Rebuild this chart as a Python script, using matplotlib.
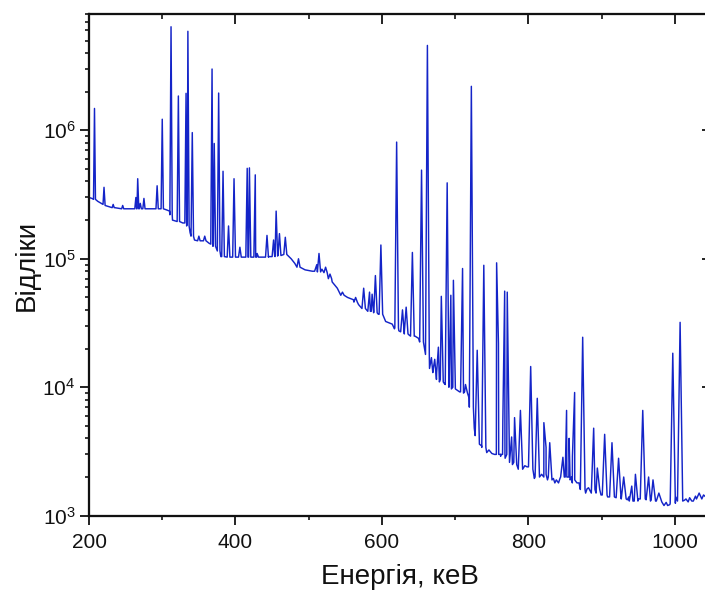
import numpy as np
import matplotlib
matplotlib.use("Agg")
import matplotlib.pyplot as plt
from matplotlib.ticker import MultipleLocator, LogLocator, NullLocator, NullFormatter, LogFormatterSciNotation

plt.rcParams['font.family'] = ['Liberation Sans', 'DejaVu Sans']
plt.rcParams['mathtext.fontset'] = 'custom'
plt.rcParams['mathtext.rm'] = 'Liberation Sans'
plt.rcParams['mathtext.it'] = 'Liberation Sans:italic'
plt.rcParams['mathtext.bf'] = 'Liberation Sans:bold'
plt.rcParams['mathtext.default'] = 'regular'

# ---- continuum (energy keV, counts) ----
base_e = [200, 204, 212, 222, 235, 250, 262, 280, 290, 298, 306, 310, 314, 320, 328, 338,
          344, 350, 358, 364, 374, 380, 400, 430, 445, 460, 470, 476, 481, 488, 495, 505,
          508, 511, 518, 527, 532, 539, 546, 553, 561, 568, 573, 581, 588, 595, 605, 614,
          617, 623, 630, 637, 645, 650, 656, 660, 665, 670, 675, 680, 685, 692, 700, 706,
          714, 719, 726, 733, 736, 743, 746, 750, 754, 762, 775, 785, 787, 792, 795, 798,
          806, 808, 815, 818, 825, 832, 834, 836, 838, 841, 843, 845, 850, 858, 866, 869,
          878, 880, 882, 886, 892, 899, 901, 908, 911, 917, 920, 926, 928, 935, 937, 939,
          944, 948, 950, 953, 960, 962, 966, 968, 974, 976, 980, 982, 985, 988, 990, 993,
          1001, 1004, 1010, 1013, 1015, 1018, 1020, 1023, 1025, 1028, 1030, 1033, 1036,
          1039, 1042, 1044, 1046, 1048, 1050]
base_c = [3.0e5, 2.95e5, 2.8e5, 2.6e5, 2.5e5, 2.45e5, 2.45e5, 2.45e5, 2.45e5, 2.45e5, 2.4e5,
          2.35e5, 2.0e5, 1.95e5, 1.9e5, 1.6e5, 1.4e5, 1.38e5, 1.38e5, 1.32e5, 1.2e5, 1.04e5,
          1.03e5, 1.03e5, 1.04e5, 1.06e5, 1.08e5, 1.0e5, 9.2e4, 8.6e4, 8.2e4, 8.0e4, 8.0e4,
          9.0e4, 8.3e4, 7.6e4, 6.6e4, 5.9e4, 5.3e4, 5.0e4, 4.8e4, 4.4e4, 4.1e4, 3.9e4, 3.8e4,
          3.7e4, 3.25e4, 3.1e4, 2.85e4, 2.75e4, 2.65e4, 2.55e4, 2.5e4, 2.4e4, 2.2e4, 2.15e4,
          1.45e4, 1.4e4, 1.15e4, 1.12e4, 1.07e4, 1.0e4, 9.5e3, 9.2e3, 9.0e3, 8.2e3, 4.8e3,
          3.6e3, 3.5e3, 3.1e3, 3.25e3, 3.05e3, 3.0e3, 2.9e3, 2.7e3, 2.4e3, 2.6e3, 2.3e3,
          2.45e3, 2.4e3, 2.3e3, 1.95e3, 2.2e3, 2.1e3, 2.0e3, 1.85e3, 1.95e3, 1.8e3, 1.9e3,
          1.8e3, 1.95e3, 2.1e3, 2.1e3, 2.1e3, 1.55e3, 1.8e3, 1.5e3, 1.62e3, 1.65e3, 1.45e3,
          1.7e3, 1.45e3, 1.75e3, 1.4e3, 1.5e3, 1.37e3, 1.45e3, 1.37e3, 1.45e3, 1.33e3, 1.4e3,
          1.3e3, 1.28e3, 1.38e3, 1.35e3, 1.28e3, 1.35e3, 1.25e3, 1.3e3, 1.38e3, 1.3e3,
          1.24e3, 1.22e3, 1.28e3, 1.2e3, 1.27e3, 1.2e3, 1.22e3, 1.4e3, 1.4e3, 1.15e3, 1.32e3,
          1.35e3, 1.28e3, 1.38e3, 1.3e3, 1.3e3, 1.42e3, 1.4e3, 1.5e3, 1.33e3, 1.45e3, 1.4e3,
          1.33e3, 1.5e3, 1.35e3, 1.42e3]

# ---- peaks: energy (keV), top counts, counts at foot ----
peak_e = [207.5, 220.5, 233, 246, 264, 266.5, 270, 275, 293, 300, 312, 322, 332.5, 335, 341,
          350, 358, 368, 371, 377, 383, 390.5, 398, 406, 416, 419, 427, 429.5, 443, 452, 455.5,
          460, 468, 486, 514, 523, 529, 546, 564, 575, 583, 586.5, 591, 598.5, 620, 628, 633,
          641.5, 654, 662, 667.5, 672, 677, 681, 689, 694, 697.5, 710, 714, 722, 730, 739,
          756.5, 759, 765, 767.5, 771, 777, 781, 789, 803, 812, 821, 824, 829, 847, 852,
          855.5, 860, 863, 874, 889, 894, 904, 914, 923, 930, 941, 946, 956, 964, 970, 978,
          997, 1007, 1033]
peak_top = [1.48e6, 3.6e5, 2.65e5, 2.6e5, 3.0e5, 4.2e5, 2.7e5, 2.95e5, 3.7e5, 1.22e6, 6.4e6,
            1.85e6, 1.94e6, 5.9e6, 9.6e5, 1.5e5, 1.5e5, 3.0e6, 7.9e5, 1.95e6, 4.8e5, 1.8e5,
            4.2e5, 1.23e5, 5.06e5, 5.1e5, 4.5e5, 1.1e5, 1.52e5, 1.4e5, 2.35e5, 1.57e5, 1.47e5,
            1.0e5, 1.1e5, 8.6e4, 7.6e4, 5.5e4, 5.0e4, 5.9e4, 5.5e4, 5.3e4, 7.4e4, 1.28e5,
            8.1e5, 4.0e4, 4.2e4, 1.12e5, 4.9e5, 4.58e6, 1.7e4, 1.65e4, 2.05e4, 5.1e4, 3.9e5,
            5.2e4, 6.8e4, 8.4e4, 1.05e4, 2.2e6, 1.94e4, 8.9e4, 9.3e4, 2.2e4, 5.5e3, 5.6e4,
            5.5e4, 4.1e3, 5.8e3, 6.6e3, 1.45e4, 8.2e3, 5.3e3, 3.4e3, 3.7e3, 2.85e3, 6.6e3,
            4.0e3, 2.9e3, 9.1e3, 2.45e4, 4.8e3, 2.35e3, 4.3e3, 3.7e3, 2.8e3, 2.0e3, 1.7e3,
            2.1e3, 6.6e3, 2.0e3, 1.9e3, 1.5e3, 1.84e4, 3.2e4, 1.5e3]
peak_base = [2.9e5, 2.65e5, 2.5e5, 2.45e5, 2.45e5, 2.45e5, 2.45e5, 2.45e5, 2.45e5, 2.45e5,
             2.2e5, 1.95e5, 1.9e5, 1.8e5, 1.5e5, 1.38e5, 1.38e5, 1.3e5, 1.25e5, 1.15e5,
             1.04e5, 1.03e5, 1.03e5, 1.03e5, 1.03e5, 1.03e5, 1.03e5, 1.03e5, 1.03e5, 1.04e5,
             1.05e5, 1.06e5, 1.08e5, 8.6e4, 7.9e4, 7.8e4, 7.0e4, 5.2e4, 4.6e4, 4.1e4, 3.9e4,
             3.9e4, 3.8e4, 3.7e4, 2.9e4, 2.7e4, 2.6e4, 2.5e4, 2.25e4, 1.8e4, 1.4e4, 1.3e4,
             1.15e4, 1.1e4, 1.05e4, 1.0e4, 9.7e3, 9.2e3, 9.0e3, 7.0e3, 4.2e3, 3.4e3, 3.0e3,
             3.0e3, 3.0e3, 3.0e3, 2.8e3, 2.6e3, 2.5e3, 2.3e3, 2.4e3, 2.0e3, 2.1e3, 2.0e3,
             1.9e3, 2.0e3, 2.0e3, 2.0e3, 1.9e3, 1.8e3, 1.6e3, 1.5e3, 1.6e3, 1.45e3, 1.4e3,
             1.38e3, 1.35e3, 1.3e3, 1.3e3, 1.35e3, 1.33e3, 1.3e3, 1.3e3, 1.25e3, 1.3e3, 1.35e3]

# ---- build the spectrum polyline (peaks drawn as narrow spikes) ----
def half_width(e):
    return 1.3 + 0.0028 * (e - 200.0)

pts = []
pe = np.array(peak_e)
pw = np.array([half_width(p) for p in pe])
for e, c in zip(base_e, base_c):
    if np.all(np.abs(pe - e) >= pw):
        pts.append((e, c))
for e, t, b in zip(peak_e, peak_top, peak_base):
    w = half_width(e)
    pts += [(e - w, b), (e, t), (e + w, b)]
pts.sort(key=lambda p: p[0])
xs = [p[0] for p in pts]
ys = [p[1] for p in pts]

fig = plt.figure(figsize=(7.05, 5.92), dpi=100)
ax = fig.add_axes([89 / 705, 1 - 515.7 / 592, (711.6 - 89) / 705, (515.7 - 14.3) / 592])
ax.plot(xs, ys, color='#1424C8', lw=1.05)
ax.set_yscale('log')
ax.set_xlim(200, 1050)
ax.set_ylim(1e3, 8e6)

ax.xaxis.set_major_locator(MultipleLocator(200))
ax.xaxis.set_minor_locator(MultipleLocator(100))
ax.yaxis.set_major_locator(LogLocator(base=10, numticks=10))
ax.yaxis.set_minor_locator(LogLocator(base=10, subs=np.arange(2, 10), numticks=20))
ax.yaxis.set_minor_formatter(NullFormatter())
ax.yaxis.set_major_formatter(LogFormatterSciNotation())

ax.tick_params(which='major', direction='out', length=6.7, width=1.3, labelsize=15,
               colors='#111111', labelcolor='#111111')
ax.tick_params(which='minor', direction='out', length=3.0, width=1.1)
ax.tick_params(axis='x', which='major', pad=6)
ax.tick_params(axis='y', which='major', pad=3)

for sp in ax.spines.values():
    sp.set_linewidth(1.5)
    sp.set_color('#111111')

axt = ax.twiny()
axt.set_xlim(ax.get_xlim())
axt.xaxis.set_major_locator(MultipleLocator(200))
axt.xaxis.set_minor_locator(MultipleLocator(100))
axt.tick_params(which='major', direction='in', length=7, width=1.3, labeltop=False, colors='#111111')
axt.tick_params(which='minor', direction='in', length=3.5, width=1.1)

axr = ax.twinx()
axr.set_yscale('log')
axr.set_ylim(ax.get_ylim())
axr.yaxis.set_major_locator(LogLocator(base=10, numticks=10))
axr.yaxis.set_minor_locator(NullLocator())
axr.tick_params(which='major', direction='in', length=7, width=1.3, labelright=False, colors='#111111')

for a in (axt, axr):
    for sp in a.spines.values():
        sp.set_linewidth(1.5)
        sp.set_color('#111111')

ax.set_xlabel('Енергія, кеВ', fontsize=20, labelpad=8.5, color='#111111')
ax.set_ylabel('Відліки', fontsize=20, labelpad=2, color='#111111')

fig.savefig('out.png', dpi=100)
